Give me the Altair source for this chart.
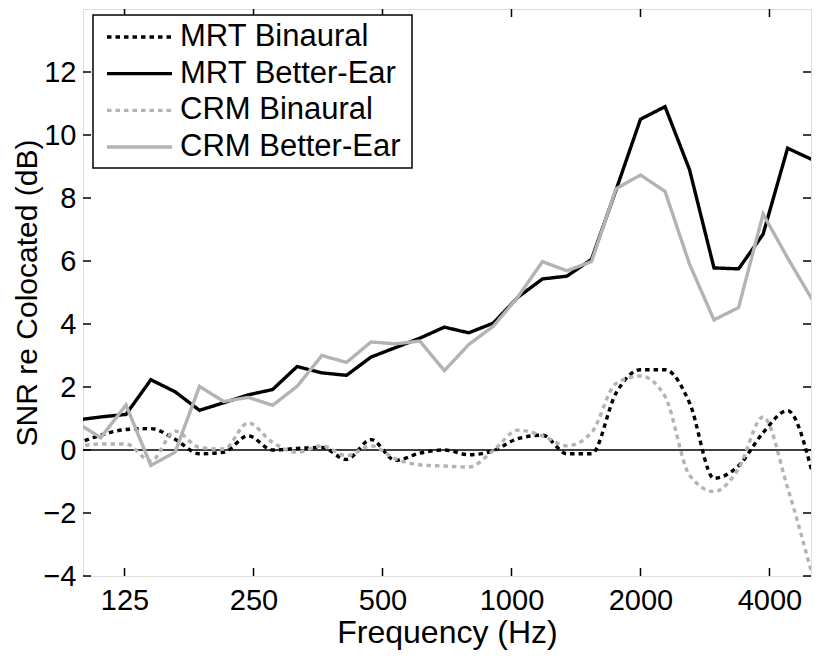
import altair as alt
import pandas as pd

# ---------------- data ----------------
freqs = [96.7, 110, 126, 144, 164, 187, 213, 243, 277, 316, 361, 412, 470, 536,
         611, 697, 795, 907, 1035, 1181, 1347, 1537, 1753, 2000, 2282, 2603,
         2969, 3388, 3865, 4409, 5029]

mrt_binaural = [0.2, 0.47, 0.65, 0.68, 0.34, -0.12, -0.07, 0.45, 0.0, 0.05, 0.08,
                -0.3, 0.33, -0.33, -0.1, 0.0, -0.15, -0.02, 0.36, 0.47, -0.12,
                -0.12, 1.8, 2.55, 2.55, 1.5, -0.9, -0.5, 0.55, 1.25, -0.7]

mrt_better = [0.95, 1.05, 1.13, 2.23, 1.85, 1.26, 1.5, 1.75, 1.92, 2.65, 2.45,
              2.37, 2.95, 3.25, 3.55, 3.9, 3.72, 4.03, 4.85, 5.43, 5.52, 6.05,
              8.25, 10.5, 10.9, 8.9, 5.78, 5.75, 6.85, 9.58, 9.22]

crm_binaural = [0.1, 0.19, 0.19, -0.35, 0.6, 0.08, 0.03, 0.86, 0.24, -0.07, 0.13,
                -0.18, 0.13, -0.28, -0.47, -0.51, -0.54, -0.02, 0.63, 0.45, 0.13,
                0.55, 2.11, 2.35, 1.7, -0.8, -1.32, -0.59, 1.05, -1.2, -3.95]

crm_better = [0.87, 0.39, 1.43, -0.49, -0.07, 2.02, 1.54, 1.67, 1.42, 2.02, 3.0,
              2.78, 3.43, 3.37, 3.46, 2.52, 3.35, 3.93, 4.86, 5.98, 5.69, 5.98,
              8.29, 8.73, 8.21, 5.9, 4.13, 4.52, 7.49, 6.1, 4.78]

series_names = ["MRT Binaural", "MRT Better-Ear", "CRM Binaural", "CRM Better-Ear"]
series_values = [mrt_binaural, mrt_better, crm_binaural, crm_better]
series_colors = ["#000000", "#000000", "#b3b3b3", "#b3b3b3"]
series_dashes = [[4.5, 4], [1, 0], [4.5, 4], [1, 0]]
series_interp = ["monotone", "linear", "monotone", "linear"]

x_ticks = [125, 250, 500, 1000, 2000, 4000]
y_ticks = [-4, -2, 0, 2, 4, 6, 8, 10, 12]

# ---------------- layout ----------------
W, H = 728, 567
FONT = "Liberation Sans"
TICK = 8

rows = []
for name, vals in zip(series_names, series_values):
    for f, v in zip(freqs, vals):
        rows.append({"freq": f, "snr": v, "series": name})
df = pd.DataFrame(rows)

xscale = alt.Scale(type="log", domain=[100, 5000])
yscale = alt.Scale(domain=[-4, 14], nice=False, zero=False)
color_scale = alt.Scale(domain=series_names, range=series_colors)
dash_scale = alt.Scale(domain=series_names, range=series_dashes)

x_enc = alt.X(
    "freq:Q", scale=xscale,
    axis=alt.Axis(values=x_ticks, format="d", title="Frequency (Hz)",
                  ticks=False, tickSize=0, domain=False, grid=False,
                  labelFontSize=29, labelFont=FONT, labelColor="black",
                  labelPadding=10, labelFlush=False, labelOverlap=False,
                  titleFontSize=32, titleFont=FONT, titleFontWeight="normal",
                  titleColor="black", titlePadding=2))
y_enc = alt.Y(
    "snr:Q", scale=yscale,
    axis=alt.Axis(values=y_ticks, title="SNR re Colocated (dB)",
                  ticks=False, tickSize=0, domain=False, grid=False,
                  labelFontSize=29, labelFont=FONT, labelColor="black",
                  labelPadding=7, labelFlush=False, labelOverlap=False,
                  titleFontSize=30, titleFont=FONT, titleFontWeight="normal",
                  titleColor="black", titlePadding=0))
color_enc = alt.Color("series:N", scale=color_scale, legend=None)
dash_enc = alt.StrokeDash("series:N", scale=dash_scale, legend=None)

zero = alt.Chart(pd.DataFrame({"snr": [0]})).mark_rule(
    color="black", strokeWidth=1.5).encode(y=y_enc)

line_layers = []
for name, interp in zip(series_names, series_interp):
    line_layers.append(
        alt.Chart(df).transform_filter(alt.datum.series == name)
        .mark_line(clip=True, strokeWidth=3.4, strokeCap="butt", interpolate=interp)
        .encode(x=x_enc, y=y_enc, color=color_enc, strokeDash=dash_enc)
    )

xt = pd.DataFrame({"freq": x_ticks})
yt = pd.DataFrame({"snr": y_ticks})
tick_style = dict(color="black", strokeWidth=1.5)
ticks_bottom = alt.Chart(xt).mark_rule(**tick_style).encode(
    x=x_enc, y=alt.value(H), y2=alt.value(H - TICK))
ticks_top = alt.Chart(xt).mark_rule(**tick_style).encode(
    x=x_enc, y=alt.value(0), y2=alt.value(TICK))
ticks_left = alt.Chart(yt).mark_rule(**tick_style).encode(
    y=y_enc, x=alt.value(0), x2=alt.value(TICK))
ticks_right = alt.Chart(yt).mark_rule(**tick_style).encode(
    y=y_enc, x=alt.value(W), x2=alt.value(W - TICK))

main = alt.layer(zero, *line_layers, ticks_bottom, ticks_top, ticks_left, ticks_right)

# ---------------- legend (drawn inside the plot, top-left) ----------------
leg_df = pd.DataFrame({"series": series_names})
leg_y = alt.Y("series:N", sort=series_names,
              scale=alt.Scale(type="point", domain=series_names, range=[28, 138], padding=0),
              axis=None)
leg_box = alt.Chart(pd.DataFrame({"a": [0]})).mark_rect(
    fill="white", stroke="black", strokeWidth=1.5).encode(
    x=alt.value(10), x2=alt.value(329), y=alt.value(6), y2=alt.value(159))
leg_lines = alt.Chart(leg_df).mark_rule(strokeWidth=3.4, strokeCap="butt").encode(
    x=alt.value(24), x2=alt.value(89), y=leg_y, color=color_enc, strokeDash=dash_enc)
leg_text = alt.Chart(leg_df).mark_text(
    align="left", baseline="middle", fontSize=31, font=FONT, color="black").encode(
    x=alt.value(97), y=leg_y, text="series:N")
legend = alt.layer(leg_box, leg_lines, leg_text)

chart = (
    alt.layer(main, legend)
    .resolve_scale(y="independent")
    .properties(width=W, height=H,
                padding={"left": 75, "top": 1, "right": 1, "bottom": 76},
                autosize=alt.AutoSizeParams(type="none"))
    .configure_view(stroke="black", strokeWidth=2)
    .configure(background="white")
)

chart.save("out.html", embed_options={"renderer": "svg", "actions": False})
